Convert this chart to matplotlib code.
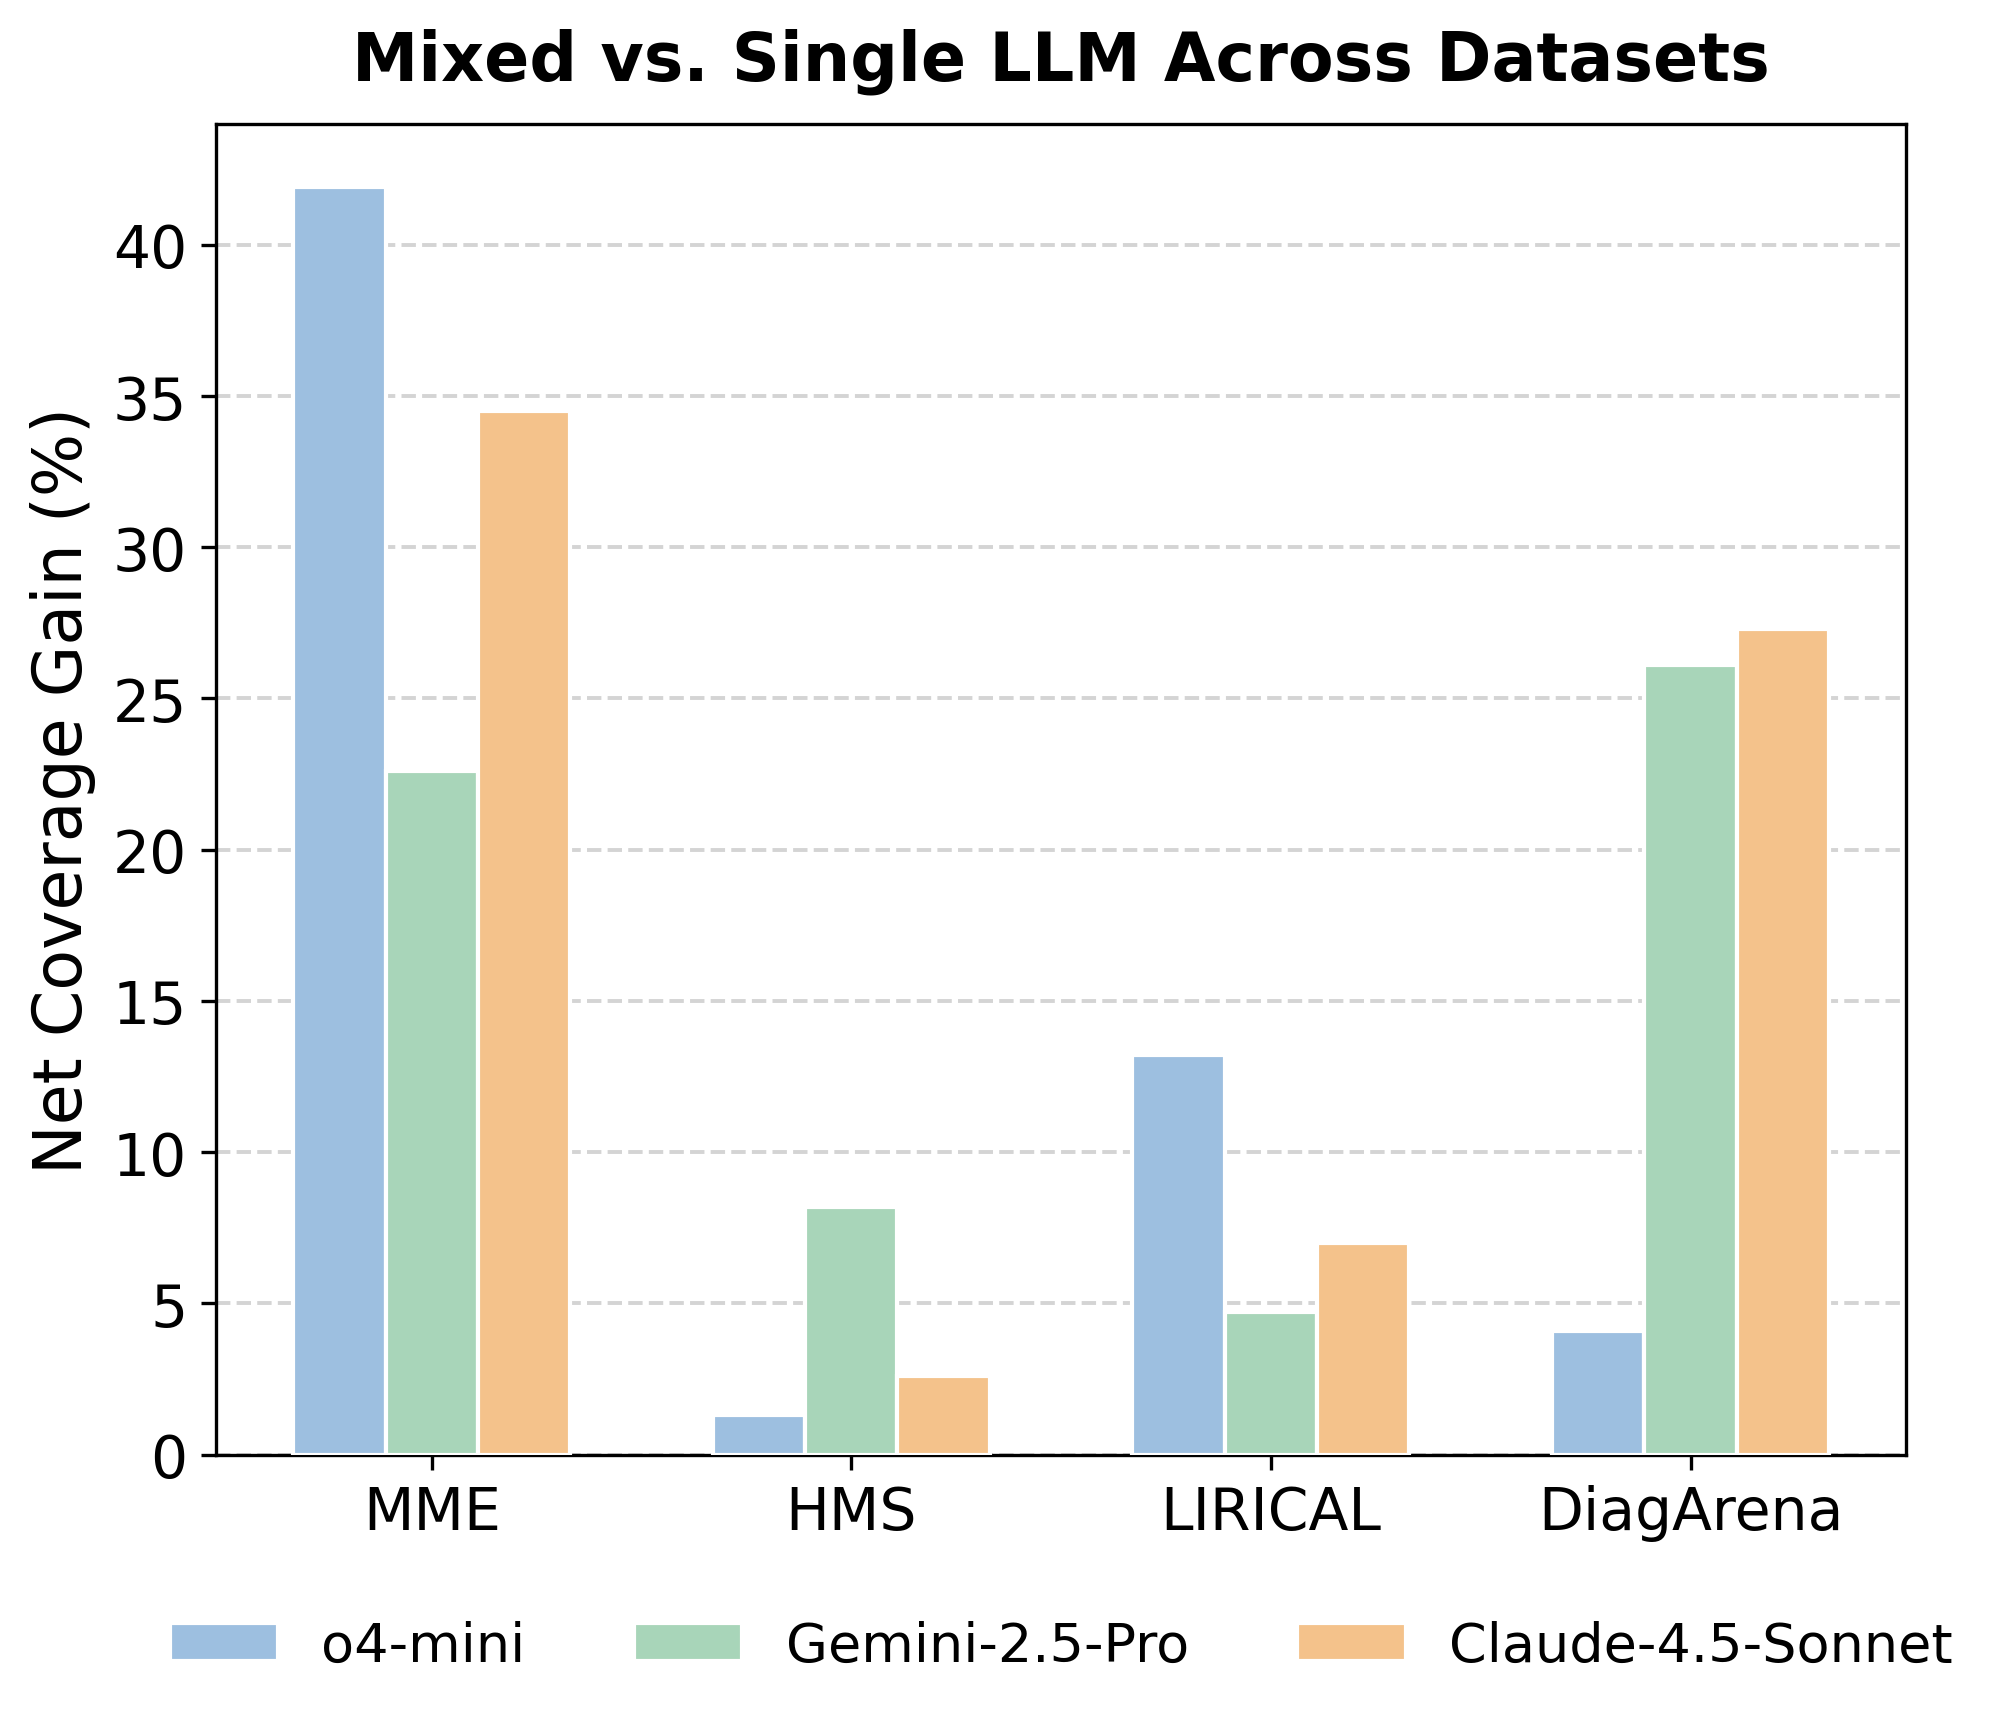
import matplotlib
matplotlib.use("Agg")
import matplotlib.pyplot as plt
import numpy as np

datasets = ["MME", "HMS", "LIRICAL", "DiagArena"]
models = ["o4-mini", "Gemini-2.5-Pro", "Claude-4.5-Sonnet"]
o4_mini = [41.9, 1.3, 13.2, 4.1]
gemini = [22.6, 8.2, 4.7, 26.1]
claude = [34.5, 2.6, 7.0, 27.3]
colors = ["#9DBFE0", "#A8D5B9", "#F4C28B"]

fig = plt.figure(figsize=(10.02, 8.62), dpi=200)
ax = fig.add_axes([0.108, 0.1557, 0.843, 0.7718])

x = np.arange(len(datasets))
w = 0.22
for i, (vals, lab, c) in enumerate(zip([o4_mini, gemini, claude], models, colors)):
    ax.bar(x + (i - 1) * w, vals, w, label=lab, color=c, edgecolor="white", linewidth=1.5, zorder=3)

ax.set_xticks(x)
ax.set_xticklabels(datasets, fontsize=21)
ax.tick_params(axis="y", labelsize=21)
ax.tick_params(length=5.25, width=1.2, pad=5.25)
for s in ax.spines.values():
    s.set_linewidth(1.2)
ax.set_ylabel("Net Coverage Gain (%)", fontsize=24, labelpad=6)
ax.set_title("Mixed vs. Single LLM Across Datasets", fontsize=24, fontweight="bold", pad=16)
ax.yaxis.grid(True, linestyle="--", color="#d4d4d4", linewidth=1.4, zorder=0)
ax.set_axisbelow(True)

ax.legend(loc="upper center", bbox_to_anchor=(0.5, -0.088), ncol=3, frameon=False,
          fontsize=19.5)

fig.savefig("out.png", dpi=200)
